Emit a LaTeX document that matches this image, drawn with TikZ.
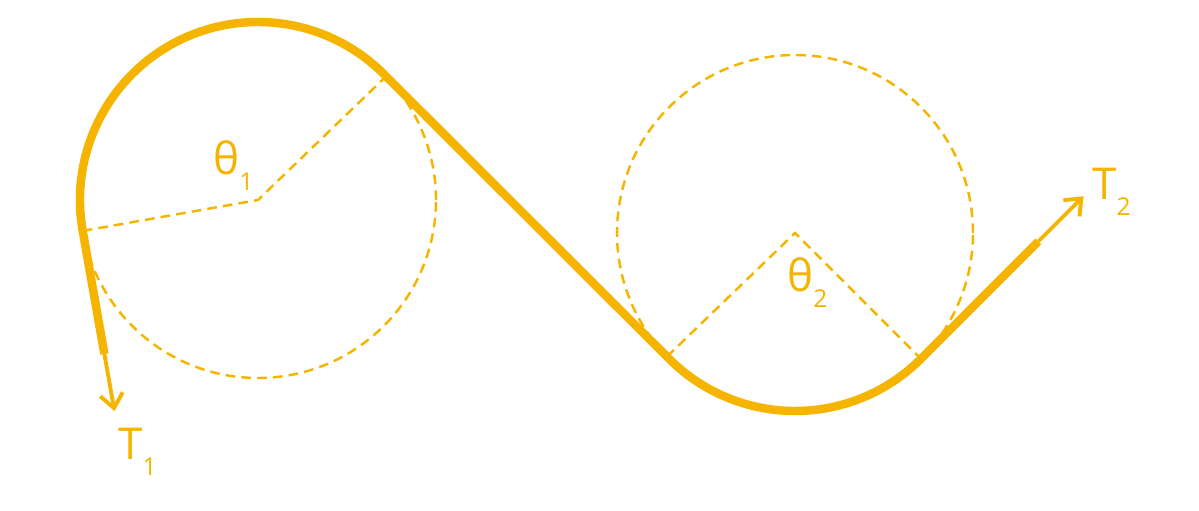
\documentclass[tikz,border=0pt]{standalone}
\usepackage{fontspec}
\setmainfont{Open Sans}
\usetikzlibrary{calc,arrows.meta}
\definecolor{amber}{HTML}{F5B400}
\newcommand\lowidx[1]{\raisebox{-0.36em}{\fontsize{14}{14}\selectfont #1}}

\begin{document}
\begin{tikzpicture}[x=0.02cm, y=0.02cm,
    belt/.style={draw=amber, line width=4.8pt, line join=round},
    pull/.style={draw=amber, line width=2.2pt, -{Straight Barb[length=8pt,width=13pt,line width=2.2pt]}},
    guide/.style={draw=amber, line width=1.4pt, dash pattern=on 5.5pt off 3.5pt},
    lbl/.style={text=amber, font=\fontsize{25}{30}\selectfont, inner sep=0pt, anchor=base west}]
  \useasboundingbox (0,0) rectangle (1199,510);
  \def\r{178}
  \coordinate (c1) at (258,310);
  \coordinate (c2) at (795,277);

  % pulleys
  \foreach \c in {c1, c2}
    \draw[guide] (\c) circle[radius=\r];

  % contact points
  \coordinate (a1) at ($(c1)+(190:\r)$);
  \coordinate (b1) at ($(c1)+(44:\r)$);
  \coordinate (a2) at ($(c2)+(-136:\r)$);
  \coordinate (b2) at ($(c2)+(-45:\r)$);
  \coordinate (e1) at ($(a1)+(280:125)$);
  \coordinate (t1) at ($(a1)+(280:183)$);
  \coordinate (e2) at ($(b2)+(45:166)$);
  \coordinate (t2) at ($(b2)+(45:230)$);

  % wrap angles
  \draw[guide] (a1) -- (c1) -- (b1);
  \draw[guide] (a2) -- (c2) -- (b2);

  % belt
  \draw[belt] (e1) -- (a1) arc[start angle=190, end angle=44, radius=\r]
    -- (a2) arc[start angle=-136, end angle=-45, radius=\r] -- (e2);
  \draw[pull] (e1) -- (t1);
  \draw[pull] (e2) -- (t2);

  \node[lbl] (T1) at (118,50) {T\lowidx{1}};
  \node[lbl] (T2) at (1092,310) {T\lowidx{2}};
  \node[lbl] (th1) at (213,335) {θ\lowidx{1}};
  \node[lbl] (th2) at (787,218) {θ\lowidx{2}};
\end{tikzpicture}
\end{document}
